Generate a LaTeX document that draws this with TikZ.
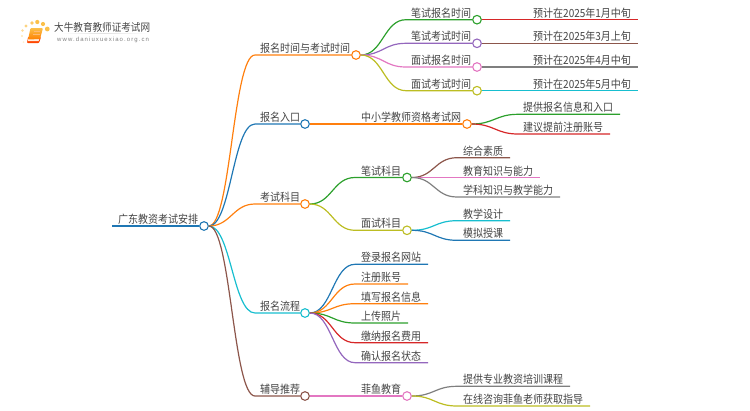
\documentclass[tikz,border=0pt]{standalone}
\usepackage{fontspec}
\usepackage{graphicx}
\setmainfont{Noto Sans CJK SC}
\newfontfamily\latinlogo{Liberation Sans}
\definecolor{cblue}{HTML}{1F77B4}
\definecolor{corange}{HTML}{FF7F0E}
\definecolor{cgreen}{HTML}{2CA02C}
\definecolor{cred}{HTML}{D62728}
\definecolor{cpurple}{HTML}{9467BD}
\definecolor{cbrown}{HTML}{8C564B}
\definecolor{cpink}{HTML}{E377C2}
\definecolor{cgray}{HTML}{7F7F7F}
\definecolor{colive}{HTML}{BCBD22}
\definecolor{ccyan}{HTML}{17BECF}
\definecolor{txt}{HTML}{444444}
\definecolor{sun}{HTML}{FBC04A}
\tikzset{
  dot/.style={circle,draw=#1,fill=white,line width=1.1pt,minimum size=8.6pt,inner sep=0pt},
  lbl/.style={anchor=base west,inner sep=0pt,font=\fontsize{10}{10}\selectfont,text=txt},
  wire/.style={draw=#1,line width=1.2pt},
  bend/.style={out=0,in=180,distance=#1},
  sundot/.style={fill=#1,draw=none}
}
% name, x, line y, text
\newcommand\lab[4]{\node[lbl] (#1) at (#2,#3-2.5) {\scalebox{1}[1.12]{#4}};}
% parent, knee, end, colour, knee x, end x, y
\newcommand\branch[7]{\coordinate (#2) at (#5,#7);\coordinate (#3) at (#6,#7);
  \draw[wire=#4] (#1) to[bend=22pt] (#2) -- (#3);}
\newcommand\dotbranch[7]{\coordinate (#2) at (#5,#7);
  \draw[wire=#4] (#1) to[bend=22pt] (#2) -- (#3);}
\begin{document}
\begin{tikzpicture}[x=1pt,y=-1pt]
\useasboundingbox (0,0) rectangle (750,410);
% logo
\fill[sundot=sun] (47.3,29) circle (2.4);
\fill[sundot=sun] (43,24) circle (2.1);
\fill[sundot=sun] (37.3,22) circle (2.1);
\fill[sundot=sun!85] (32,23) circle (1.9);
\fill[sundot=sun!70] (26,26) circle (1.7);
\fill[sundot=sun!55] (22.5,30.5) circle (1.4);
\fill[sundot=sun!40] (22,36) circle (1.2);
\fill[sundot=sun!25] (23.5,42) circle (1);
\path[fill=orange!55!red,rounded corners=.8pt] (28,37) -- (27,43) -- (39,43) -- (41,37) -- cycle;
\path[fill=orange!12!white] (28.4,38.6) -- (28,41.2) -- (38.6,41.2) -- (39.4,38.6) -- cycle;
\path[top color=sun,bottom color=orange,rounded corners=1pt] (30.5,28) -- (43,28) -- (40,39) -- (28,39.5) -- cycle;
\draw[white!45!orange,line width=.5pt] (33.5,31.5) -- (40,31.5) (33,34) -- (39.5,34);
\node[anchor=base west,inner sep=0pt,font=\fontsize{9.6}{9.6}\selectfont,text=black!72] (logot) at (54,31) {\scalebox{1}[1.12]{大牛教育教师证考试网}};
\path[left color=white,right color=white,middle color=black!12] (60,33.2) rectangle (148,33.9);
\node[anchor=base west,inner sep=0pt,font=\latinlogo\fontsize{6}{6}\selectfont\addfontfeatures{LetterSpace=18},text=black!50] (logou) at (57,41) {www.daniuxuexiao.org.cn};
% circles
\node[dot=cblue] (root) at (204,226) {};
\node[dot=corange] (a1) at (356,55) {};
\node[dot=cblue] (a2) at (305,124) {};
\node[dot=corange] (a3) at (305,204) {};
\node[dot=ccyan] (a4) at (305,313) {};
\node[dot=cbrown] (a5) at (305,396) {};
\node[dot=cgreen] (b1) at (477,19.7) {};
\node[dot=cpurple] (b2) at (477,43.3) {};
\node[dot=cpink] (b3) at (477,67) {};
\node[dot=colive] (b4) at (477,90.7) {};
\node[dot=corange] (b5) at (467,124) {};
\node[dot=cgreen] (b6) at (407,177.5) {};
\node[dot=colive] (b7) at (407,230.3) {};
\node[dot=cpink] (b8) at (407,396) {};
% root stub
\coordinate (rootl) at (112,226);
\draw[cblue,line width=1.6pt] (rootl) -- (root);
% level 1
\dotbranch{root}{k1}{a1}{corange}{255}{}{55}
\dotbranch{root}{k2}{a2}{cblue}{255}{}{124}
\dotbranch{root}{k3}{a3}{corange}{255}{}{204}
\dotbranch{root}{k4}{a4}{ccyan}{255}{}{313}
\dotbranch{root}{k5}{a5}{cbrown}{255}{}{396}
% level 2
\dotbranch{a1}{k11}{b1}{cgreen}{406}{}{19.7}
\dotbranch{a1}{k12}{b2}{cpurple}{406}{}{43.3}
\dotbranch{a1}{k13}{b3}{cpink}{406}{}{67}
\dotbranch{a1}{k14}{b4}{colive}{406}{}{90.7}
\draw[wire=corange] (a2) -- (b5);
\dotbranch{a3}{k31}{b6}{cgreen}{355}{}{177.5}
\dotbranch{a3}{k32}{b7}{colive}{355}{}{230.3}
\draw[wire=cpink] (a5) -- (b8);
% level 3 straight
\coordinate (e1) at (638,19.7);\draw[wire=cred] (b1) -- (e1);
\coordinate (e2) at (638,43.3);\draw[wire=cbrown] (b2) -- (e2);
\coordinate (e3) at (638,67);\draw[wire=cgray] (b3) -- (e3);
\coordinate (e4) at (638,90.7);\draw[wire=ccyan] (b4) -- (e4);
% leaves
\branch{b5}{k51}{e51}{cgreen}{518}{620}{114.3}
\branch{b5}{k52}{e52}{cred}{518}{610}{134}
\branch{b6}{k61}{e61}{cbrown}{457}{510}{157.7}
\branch{b6}{k62}{e62}{cpink}{457}{540}{177.5}
\branch{b6}{k63}{e63}{cgray}{457}{560}{197}
\branch{b7}{k71}{e71}{ccyan}{457}{510}{220.7}
\branch{b7}{k72}{e72}{cblue}{457}{510}{240.3}
\branch{a4}{k41}{e41}{cblue}{355}{428}{264.3}
\branch{a4}{k42}{e42}{corange}{355}{408}{284}
\branch{a4}{k43}{e43}{corange}{355}{428}{303.7}
\branch{a4}{k44}{e44}{cgreen}{355}{408}{323}
\branch{a4}{k45}{e45}{cred}{355}{428}{342.7}
\branch{a4}{k46}{e46}{cpurple}{355}{428}{362.7}
\branch{b8}{k81}{e81}{cgray}{457}{570}{386.3}
\branch{b8}{k82}{e82}{colive}{457}{590}{406}
% labels
\lab{t0}{118}{226}{广东教资考试安排}
\lab{t1}{260}{55}{报名时间与考试时间}
\lab{t2}{260}{124}{报名入口}
\lab{t3}{260}{204}{考试科目}
\lab{t4}{260}{313}{报名流程}
\lab{t5}{260}{396}{辅导推荐}
\lab{t11}{411}{19.7}{笔试报名时间}
\lab{t12}{411}{43.3}{笔试考试时间}
\lab{t13}{411}{67}{面试报名时间}
\lab{t14}{411}{90.7}{面试考试时间}
\lab{t15}{533}{19.7}{预计在2025年1月中旬}
\lab{t16}{533}{43.3}{预计在2025年3月上旬}
\lab{t17}{533}{67}{预计在2025年4月中旬}
\lab{t18}{533}{90.7}{预计在2025年5月中旬}
\lab{t21}{361}{124}{中小学教师资格考试网}
\lab{t22}{523}{114.3}{提供报名信息和入口}
\lab{t23}{523}{134}{建议提前注册账号}
\lab{t31}{361}{177.5}{笔试科目}
\lab{t32}{361}{230.3}{面试科目}
\lab{t33}{463}{157.7}{综合素质}
\lab{t34}{463}{177.5}{教育知识与能力}
\lab{t35}{463}{197}{学科知识与教学能力}
\lab{t36}{463}{220.7}{教学设计}
\lab{t37}{463}{240.3}{模拟授课}
\lab{t41}{361}{264.3}{登录报名网站}
\lab{t42}{361}{284}{注册账号}
\lab{t43}{361}{303.7}{填写报名信息}
\lab{t44}{361}{323}{上传照片}
\lab{t45}{361}{342.7}{缴纳报名费用}
\lab{t46}{361}{362.7}{确认报名状态}
\lab{t51}{361}{396}{菲鱼教育}
\lab{t52}{463}{386.3}{提供专业教资培训课程}
\lab{t53}{463}{406}{在线咨询菲鱼老师获取指导}
\end{tikzpicture}
\end{document}
